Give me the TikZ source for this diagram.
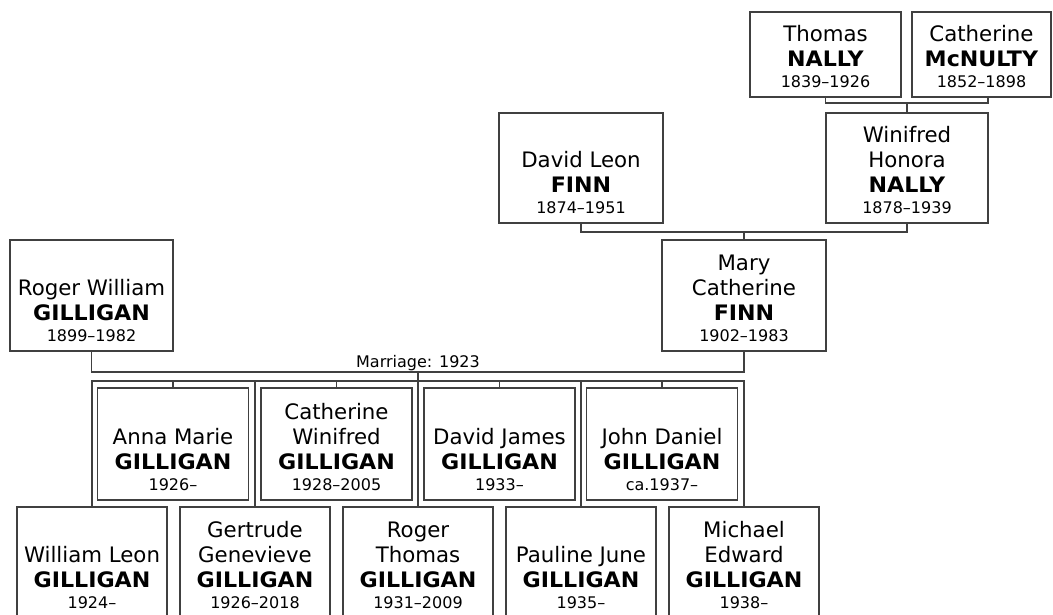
\documentclass[tikz,border=0pt]{standalone}
\usepackage{fontspec}
\setmainfont{DejaVu Sans}[BoldFeatures={FakeStretch=1.04}]
\newcommand\pbody[5]{\parbox[c][\dimexpr#1-10pt\relax][b]{#2}{\centering\fontsize{21.3}{25}\selectfont #3\par\textbf{#4}\par\fontsize{16}{21}\selectfont #5\rule[-10pt]{0pt}{1pt}\par}}
\begin{document}
\begin{tikzpicture}[x=1pt,y=-1pt,
  person/.style={draw=black!75, line width=1.2pt, inner sep=0pt, rectangle, fill=white},
  link/.style={draw=black!75, line width=1.2pt},
  marr/.style={font=\fontsize{16}{19}\selectfont, inner sep=0pt, anchor=base}]
\useasboundingbox (0,0) rectangle (1053,614);
\clip (0,0) rectangle (1053,614);
% great-grandparents
\node[person] (t) at (825.5,54.5) {\pbody{85pt}{151pt}{Thomas}{NALLY}{1839–1926}};
\node[person] (c) at (981.5,54.5) {\pbody{85pt}{139pt}{Catherine}{McNULTY}{1852–1898}};
% grandparents
\node[person] (w) at (907,168) {\pbody{110pt}{162pt}{Winifred\par Honora}{NALLY}{1878–1939}};
\node[person] (d) at (581,168) {\pbody{110pt}{164pt}{David Leon}{FINN}{1874–1951}};
% parents
\node[person] (m) at (744,295.5) {\pbody{111pt}{164pt}{Mary\par Catherine}{FINN}{1902–1983}};
\node[person] (r) at (91.5,295.5) {\pbody{111pt}{163pt}{Roger William}{GILLIGAN}{1899–1982}};
% children, upper row
\node[person] (a1) at (173,444) {\pbody{112pt}{151pt}{Anna Marie}{GILLIGAN}{1926–}};
\node[person] (a2) at (336.5,444) {\pbody{112pt}{151pt}{Catherine\par Winifred}{GILLIGAN}{1928–2005}};
\node[person] (a3) at (499.5,444) {\pbody{112pt}{151pt}{David James}{GILLIGAN}{1933–}};
\node[person] (a4) at (662,444) {\pbody{112pt}{151pt}{John Daniel}{GILLIGAN}{ca.1937–}};
% children, lower row
\node[person] (b1) at (92,562.5) {\pbody{111pt}{150pt}{William Leon}{GILLIGAN}{1924–}};
\node[person] (b2) at (255,562.5) {\pbody{111pt}{150pt}{Gertrude\par Genevieve}{GILLIGAN}{1926–2018}};
\node[person] (b3) at (418,562.5) {\pbody{111pt}{150pt}{Roger\par Thomas}{GILLIGAN}{1931–2009}};
\node[person] (b4) at (581,562.5) {\pbody{111pt}{150pt}{Pauline June}{GILLIGAN}{1935–}};
\node[person] (b5) at (744,562.5) {\pbody{111pt}{150pt}{Michael\par Edward}{GILLIGAN}{1938–}};
% junctions
\coordinate (j1) at (907,103);
\coordinate (cb) at (988,97);
\coordinate (j2) at (744,232);
\coordinate (j3) at (418,372);
\coordinate (j4) at (418,381);
% connectors
\draw[link] (t.south) |- (j1) -| (cb);
\draw[link] (j1) -- (w.north);
\draw[link] (d.south) |- (j2) -| (w.south);
\draw[link] (j2) -- (m.north);
\draw[link] (r.south) |- (j3) -| (m.south);
\node[marr] (ml) at (418,367) {Marriage: 1923};
\draw[link] (j3) -- (j4);
\draw[link] (b1.north) -- (b1.north |- j4) -- (b5.north |- j4) -- (b5.north);
\draw[link] (b2.north) -- (b2.north |- j4);
\draw[link] (b3.north) -- (j4);
\draw[link] (b4.north) -- (b4.north |- j4);
\draw[link] (a1.north) -- (a1.north |- j4);
\draw[link] (a2.north) -- (a2.north |- j4);
\draw[link] (a3.north) -- (a3.north |- j4);
\draw[link] (a4.north) -- (a4.north |- j4);
\end{tikzpicture}
\end{document}
